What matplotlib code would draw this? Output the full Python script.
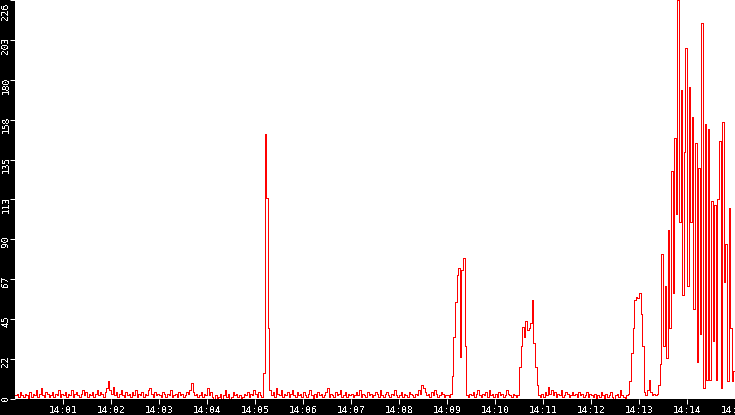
import matplotlib
matplotlib.use("Agg")
import matplotlib.pyplot as plt
import matplotlib.transforms as mtransforms
import numpy as np

plt.rcParams['font.family'] = ['DejaVu Sans Mono']
plt.rcParams['text.antialiased'] = False

# one sample every 2 seconds starting 14:00:00, one list per minute
m00 = [2, 3, 1, 4, 2, 1, 3, 2, 0, 4, 1, 3, 2, 5, 1, 3, 6, 2, 1, 4, 3, 1, 2, 4, 1, 3, 2, 5, 1, 3]
m01 = [2, 4, 1, 3, 2, 5, 1, 3, 4, 2, 1, 3, 5, 2, 4, 1, 3, 2, 4, 1, 3, 5, 2, 4, 3, 1, 4, 6, 10, 5]
m02 = [3, 7, 2, 4, 1, 3, 5, 2, 1, 4, 2, 3, 1, 4, 2, 5, 1, 3, 2, 4, 1, 3, 2, 5, 6, 3, 1, 4, 2, 3]
m03 = [2, 1, 4, 3, 1, 3, 2, 5, 1, 2, 3, 1, 4, 2, 3, 1, 2, 4, 3, 5, 9, 4, 2, 3, 1, 2, 4, 1, 3, 2]
m04 = [6, 2, 4, 1, 0, 2, 0, 1, 3, 0, 2, 5, 1, 3, 0, 1, 4, 2, 3, 1, 2, 0, 1, 3, 2, 4, 1, 3, 2, 5]
m05 = [3, 1, 4, 2, 1, 15, 150, 114, 40, 5, 2, 4, 1, 6, 3, 2, 5, 1, 3, 2, 4, 1, 3, 5, 2, 1, 4, 2, 3, 1]
m06 = [4, 2, 1, 3, 5, 2, 0, 3, 1, 4, 2, 3, 1, 2, 4, 6, 1, 3, 2, 1, 4, 2, 3, 5, 1, 2, 4, 1, 3, 2]
m07 = [3, 1, 2, 4, 2, 5, 1, 3, 2, 1, 4, 2, 3, 1, 2, 4, 3, 1, 5, 2, 1, 3, 4, 2, 1, 3, 2, 5, 2, 1]
m08 = [2, 4, 1, 3, 2, 1, 4, 3, 2, 1, 3, 2, 5, 3, 8, 6, 4, 2, 3, 1, 4, 2, 5, 3, 1, 2, 4, 3, 1, 2]
m09 = [2, 1, 3, 13, 35, 55, 70, 74, 24, 73, 80, 30, 2, 1, 3, 2, 4, 1, 3, 5, 2, 1, 3, 2, 4, 1, 5, 2, 3, 1]
m10 = [3, 1, 4, 2, 3, 1, 2, 5, 3, 2, 1, 3, 2, 1, 2, 18, 30, 41, 35, 44, 39, 40, 43, 56, 32, 18, 8, 2, 1, 3]
m11 = [1, 4, 2, 7, 3, 5, 2, 4, 1, 3, 2, 5, 1, 2, 4, 3, 1, 2, 4, 2, 3, 1, 4, 2, 3, 1, 2, 4, 1, 3]
m12 = [2, 1, 3, 0, 2, 1, 4, 2, 0, 3, 1, 2, 4, 1, 0, 2, 3, 1, 5, 2, 1, 0, 2, 3, 10, 26, 40, 56, 58, 57]
m13 = [60, 48, 30, 4, 2, 5, 11, 4, 2, 3, 2, 3, 8, 20, 82, 30, 64, 23, 96, 40,
       129, 60, 148, 105, 226, 100, 175, 59, 140, 199]
m14 = [64, 177, 100, 160, 51, 145, 21, 131, 37, 213, 6, 156, 11, 153, 11, 112, 33, 110, 11, 113,
       146, 6, 157, 66, 88, 10, 108, 40, 10, 16]
m15 = [69]

ytick_vals = [0, 22.6, 45.2, 67.8, 90.4, 113, 135.6, 158.2, 180.8, 203.4, 226]
ytick_labels = ["0", "22", "45", "67", "90", "113", "135", "158", "180", "203", "226"]
xtick_labels = ["14:01", "14:02", "14:03", "14:04", "14:05", "14:06", "14:07", "14:08",
                "14:09", "14:10", "14:11", "14:12", "14:13", "14:14", "14:15"]

values = np.array(m00 + m01 + m02 + m03 + m04 + m05 + m06 + m07 + m08 + m09
                  + m10 + m11 + m12 + m13 + m14 + m15)
secs = np.arange(len(values)) * 2

fig = plt.figure(figsize=(7.35, 4.15), dpi=100, facecolor="black")
ax = fig.add_axes([15 / 735, 16 / 415, 720 / 735, 399 / 415])
ax.set_facecolor("white")

ax.plot(secs, values, color="#ff0000", lw=0.72, antialiased=False, drawstyle="steps-post")

ax.set_xlim(0, 900)
ax.set_ylim(0, 226)
for s in ax.spines.values():
    s.set_visible(False)

ax.set_xticks(np.arange(60, 901, 60), xtick_labels)
ax.set_yticks(ytick_vals, ytick_labels)
ax.tick_params(colors="white", length=3.6, width=0.72, labelsize=6.8, direction="out")
ax.tick_params(axis="x", pad=1.5)
ax.tick_params(axis="y", pad=2.9)

# y labels run upwards, ending just above their tick (top one pushed down to stay inside)
up = mtransforms.ScaledTranslation(0, 0.035, fig.dpi_scale_trans)
down = mtransforms.ScaledTranslation(0, -0.03, fig.dpi_scale_trans)
ticks = ax.yaxis.get_major_ticks()
for n, t in enumerate(ticks):
    lab = t.label1
    lab.set_rotation(90)
    lab.set_rotation_mode("anchor")
    lab.set_ha("right")
    lab.set_va("center")
    lab.set_transform(lab.get_transform() + (down if n == len(ticks) - 1 else up))

fig.savefig("out.png", dpi=100, facecolor="black")
